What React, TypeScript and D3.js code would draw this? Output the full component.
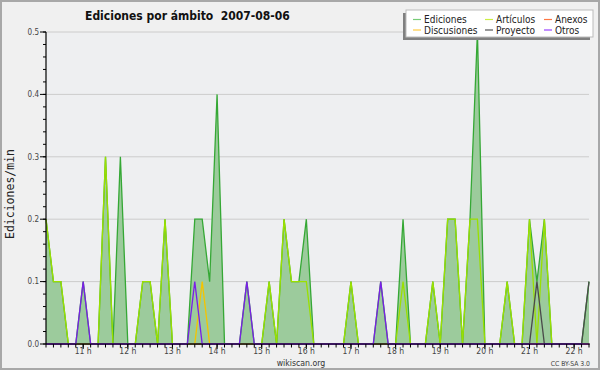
import React from 'react';
import * as d3 from 'd3';

// 10-minute samples starting 10:10 on 2007-08-06
const startTime = new Date(2007, 7, 6, 10, 10);

const ediciones = [
  0.2, 0.1, 0.1, 0, 0, 0.1, 0, 0, 0.3, 0,
  0.3, 0, 0, 0.1, 0.1, 0, 0.2, 0, 0, 0,
  0.2, 0.2, 0.1, 0.4, 0, 0, 0, 0.1, 0, 0,
  0.1, 0, 0.2, 0.1, 0.1, 0.2, 0, 0, 0, 0,
  0, 0.1, 0, 0, 0, 0.1, 0, 0, 0.2, 0,
  0, 0, 0.1, 0, 0.2, 0.2, 0, 0.2, 0.5, 0,
  0, 0, 0.1, 0, 0, 0.2, 0.1, 0.2, 0, 0,
  0, 0, 0, 0.1,
];
const articulos = [
  0.2, 0.1, 0.1, 0, 0, 0, 0, 0, 0.3, 0,
  0, 0, 0, 0.1, 0.1, 0, 0.2, 0, 0, 0,
  0, 0, 0, 0, 0, 0, 0, 0, 0, 0,
  0.1, 0, 0.2, 0.1, 0.1, 0.1, 0, 0, 0, 0,
  0, 0.1, 0, 0, 0, 0, 0, 0, 0.1, 0,
  0, 0, 0.1, 0, 0.2, 0.2, 0, 0.2, 0.2, 0,
  0, 0, 0.1, 0, 0, 0.2, 0, 0.2, 0, 0,
  0, 0, 0, 0,
];
const anexos = [
  0, 0, 0, 0, 0, 0, 0, 0, 0, 0,
  0, 0, 0, 0, 0, 0, 0, 0, 0, 0,
  0, 0, 0, 0, 0, 0, 0, 0, 0, 0,
  0, 0, 0, 0, 0, 0, 0, 0, 0, 0,
  0, 0, 0, 0, 0, 0, 0, 0, 0, 0,
  0, 0, 0, 0, 0, 0, 0, 0, 0, 0,
  0, 0, 0, 0, 0, 0, 0, 0, 0, 0,
  0, 0, 0, 0,
];
const discusiones = [
  0, 0, 0, 0, 0, 0, 0, 0, 0, 0,
  0, 0, 0, 0, 0, 0, 0, 0, 0, 0,
  0, 0.1, 0, 0, 0, 0, 0, 0, 0, 0,
  0, 0, 0, 0, 0, 0, 0, 0, 0, 0,
  0, 0, 0, 0, 0, 0, 0, 0, 0, 0,
  0, 0, 0, 0, 0, 0, 0, 0, 0, 0,
  0, 0, 0, 0, 0, 0, 0, 0, 0, 0,
  0, 0, 0, 0,
];
const proyecto = [
  0, 0, 0, 0, 0, 0, 0, 0, 0, 0,
  0, 0, 0, 0, 0, 0, 0, 0, 0, 0,
  0, 0, 0, 0, 0, 0, 0, 0, 0, 0,
  0, 0, 0, 0, 0, 0, 0, 0, 0, 0,
  0, 0, 0, 0, 0, 0, 0, 0, 0, 0,
  0, 0, 0, 0, 0, 0, 0, 0, 0, 0,
  0, 0, 0, 0, 0, 0, 0.1, 0, 0, 0,
  0, 0, 0, 0.1,
];
const otros = [
  0, 0, 0, 0, 0, 0.1, 0, 0, 0, 0,
  0, 0, 0, 0, 0, 0, 0, 0, 0, 0,
  0.1, 0, 0, 0, 0, 0, 0, 0.1, 0, 0,
  0, 0, 0, 0, 0, 0, 0, 0, 0, 0,
  0, 0, 0, 0, 0, 0.1, 0, 0, 0, 0,
  0, 0, 0, 0, 0, 0, 0, 0, 0, 0,
  0, 0, 0, 0, 0, 0, 0, 0, 0, 0,
  0, 0, 0, 0,
];

const seriesNames = ['Ediciones', 'Artículos', 'Anexos', 'Discusiones', 'Proyecto', 'Otros'];
const seriesValues = [ediciones, articulos, anexos, discusiones, proyecto, otros];
const lineColors = ['#35a835', '#9be000', '#ff7744', '#f5c400', '#4a4a4a', '#7a1ee8'];
const legendColors = ['#77cc77', '#ccee44', '#ff7744', '#ffcc44', '#555555', '#9944ff'];

const yTicks = [0, 0.1, 0.2, 0.3, 0.4, 0.5];
const yTickLabels = ['0.0', '0.1', '0.2', '0.3', '0.4', '0.5'];
const hourTickLabels = ['11 h', '12 h', '13 h', '14 h', '15 h', '16 h', '17 h', '18 h', '19 h', '20 h', '21 h', '22 h'];

const title = 'Ediciones por ámbito  2007-08-06';
const yTitle = 'Ediciones/min';

const W = 600;
const H = 370;
const L = 46;
const R = 589;
const T = 32;
const B = 344;

export default function App() {
  const times = ediciones.map((_, i) => d3.timeMinute.offset(startTime, i * 10));
  const x = d3.scaleTime().domain([times[0], times[times.length - 1]]).range([L, R]);
  const y = d3.scaleLinear().domain([0, 0.5]).range([B, T]);

  const area = d3
    .area<number>()
    .x((_, i) => x(times[i]))
    .y0(y(0))
    .y1((d) => y(d));
  const line = d3
    .line<number>()
    .x((_, i) => x(times[i]))
    .y((d) => y(d));

  const minorX = d3.timeMinute.every(10)!.range(times[0], d3.timeMinute.offset(times[times.length - 1], 1));
  const hours = d3.timeHour.range(times[0], times[times.length - 1]);
  const minorY = d3.range(0, 0.5001, 0.02);

  const legendCols = [424, 496, 555];
  const legendRows = [19.5, 30];
  const font = '"DejaVu Sans Condensed", "DejaVu Sans", sans-serif';

  return (
    <svg width={W} height={H} style={{ position: 'absolute', left: 0, top: 0 }} fontFamily={font}>
      <rect x={1} y={1} width={W - 2} height={H - 2} fill="#f0f0f0" stroke="#a8a8a8" strokeWidth={2} />
      <rect x={L} y={T} width={R - L + 1} height={B - T} fill="#eeeff1" />
      {yTicks.slice(1).map((t) => (
        <line key={'g' + t} x1={L} x2={R} y1={y(t)} y2={y(t)} stroke="#cccccc" strokeWidth={1} />
      ))}

      <path d={area(ediciones) || ''} fill="#9ccb9c" stroke="none" />
      {seriesValues.map((vals, k) => (
        <path key={seriesNames[k]} d={line(vals) || ''} fill="none" stroke={lineColors[k]} strokeWidth={1.3} strokeLinejoin="miter" />
      ))}

      {/* axes */}
      <line x1={L} x2={L} y1={T} y2={B} stroke="#000" strokeWidth={1.2} />
      <line x1={L} x2={R + 1} y1={B} y2={B} stroke="#000" strokeWidth={1.2} />
      {minorY.map((t) => (
        <line key={'my' + t} x1={L - 3} x2={L} y1={y(t)} y2={y(t)} stroke="#000" strokeWidth={1} />
      ))}
      {yTicks.map((t, i) => (
        <g key={'yt' + t}>
          <line x1={L - 6} x2={L} y1={y(t)} y2={y(t)} stroke="#000" strokeWidth={1} />
          <text x={L - 7} y={y(t)} dy="0.35em" textAnchor="end" fontSize={8} fill="#444">
            {yTickLabels[i]}
          </text>
        </g>
      ))}
      {minorX.map((t) => (
        <line key={'mx' + t.getTime()} x1={x(t)} x2={x(t)} y1={B} y2={B + 3.5} stroke="#000" strokeWidth={1} />
      ))}
      {hours.map((t, i) => (
        <g key={'h' + t.getTime()}>
          <line x1={x(t)} x2={x(t)} y1={B} y2={B + 5} stroke="#000" strokeWidth={1} />
          <text x={x(t)} y={351} dy="0.35em" textAnchor="middle" fontSize={8.5} fill="#444">
            {hourTickLabels[i]}
          </text>
        </g>
      ))}

      <text x={85} y={16} dy="0.35em" textAnchor="start" fontSize={12} fontWeight="bold" fill="#111" style={{ whiteSpace: 'pre' }}>
        {title}
      </text>
      <text
        transform={`translate(9.5, 194) rotate(-90)`}
        dy="0.35em"
        textAnchor="middle"
        fontSize={11.5}
        fontFamily='"DejaVu Sans Mono", monospace'
        fill="#222"
      >
        {yTitle}
      </text>
      <text x={301} y={363} dy="0.35em" textAnchor="middle" fontSize={8.7} fill="#333">
        wikiscan.org
      </text>
      <text x={590} y={364} dy="0.35em" textAnchor="end" fontSize={6.8} fill="#444">
        CC BY-SA 3.0
      </text>

      {/* legend */}
      <rect x={403} y={13} width={187} height={27} fill="#808080" />
      <rect x={406} y={10} width={187} height={27} fill="#ffffff" stroke="#bbbbbb" strokeWidth={1} />
      {seriesNames.map((name, k) => {
        const col = k % 3;
        const row = Math.floor(k / 3);
        const tx = legendCols[col];
        const ty = legendRows[row];
        return (
          <g key={'lg' + name}>
            <line x1={tx - 11} x2={tx - 3} y1={ty} y2={ty} stroke={legendColors[k]} strokeWidth={1.2} />
            <text x={tx} y={ty} dy="0.35em" fontSize={10} fill="#222">
              {name}
            </text>
          </g>
        );
      })}
    </svg>
  );
}
